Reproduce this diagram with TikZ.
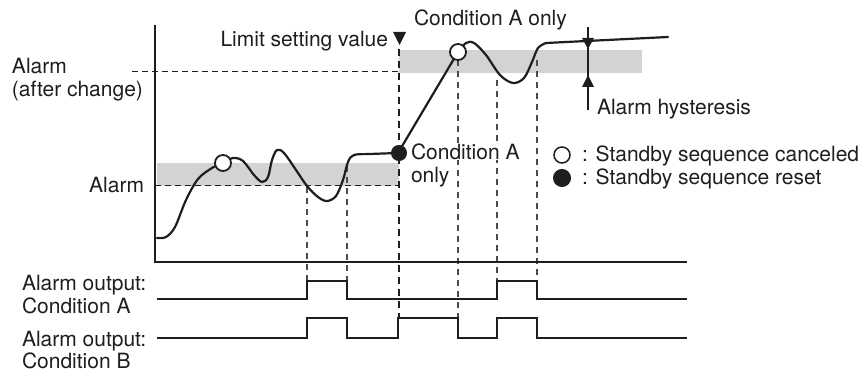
\documentclass[tikz,border=0pt]{standalone}
\usepackage{fontspec}
\setmainfont{TeX Gyre Heros}
\definecolor{bandgray}{RGB}{209,211,212}
\definecolor{ink}{RGB}{30,30,30}
\begin{document}
\begin{tikzpicture}[x=1pt,y=-1pt,
  lbl/.style={inner sep=0pt,outer sep=0pt,font=\fontsize{21}{23}\selectfont,text=ink},
  thindash/.style={draw=ink,line width=1pt,dash pattern=on 5.5pt off 4.5pt},
  vdash/.style={draw=ink!80,line width=1.1pt,dash pattern=on 6pt off 5pt},
  bigdash/.style={draw=ink,line width=2.6pt,dash pattern=on 7pt off 5pt},
  curve/.style={draw=ink,line width=2.2pt,line join=round,line cap=round},
  sig/.style={draw=ink,line width=2.5pt,line join=miter},
  axis/.style={draw=ink,line width=2.6pt,line join=miter},
  opendot/.style={circle,draw=ink,fill=white,line width=1.8pt,minimum size=16pt,inner sep=0pt},
  fulldot/.style={circle,draw=ink,fill=ink,line width=1pt,minimum size=15pt,inner sep=0pt}
]
\useasboundingbox (0,0) rectangle (866,371);
% bands
\fill[bandgray] (157,163) rectangle (399,186);
\fill[bandgray] (399,50) rectangle (642,73);
% horizontal dashed levels
\draw[thindash] (132,72) -- (398,72);
\draw[thindash] (155,186) -- (398,186);
% vertical dashed lines
\draw[vdash] (307,187) -- (307,281);
\draw[vdash] (347,166) -- (347,281);
\draw[vdash] (458,60) -- (458,318);
\draw[vdash] (497,80) -- (497,281);
\draw[vdash] (537,60) -- (537,281);
\draw[bigdash] (399,49) -- (399,318);
% limit setting marker
\fill[ink] (393,32) -- (406,32) -- (399.5,45) -- cycle;
% process value curve
\draw[curve] plot[smooth,tension=0.55] coordinates {(157,238) (166,237) (175,227) (186,200) (198,179) (212,168) (223,163) (233,158) (243,161) (254,175) (262,182) (268,177) (272,160) (277,150) (284,153) (296,170) (307,186) (318,197) (327,201) (336,196) (343,180) (348,162) (354,155) (370,154) (398,153)};
\draw[curve] (398,153) -- (458,52);
\draw[curve] plot[smooth,tension=0.55] coordinates {(458,52) (466,43) (474,43) (486,55) (500,75) (513,83) (524,78) (532,62) (538,48) (546,43)};
\draw[curve] (546,43) -- (668,37);
% axes
\draw[axis] (155,25) -- (155,262) -- (687,262);
% alarm outputs
\draw[sig] (157,299) -- (307,299) -- (307,281) -- (347,281) -- (347,299) -- (497,299) -- (497,281) -- (537,281) -- (537,299) -- (687,299);
\draw[sig] (157,338) -- (307,338) -- (307,318) -- (347,318) -- (347,338) -- (398,338) -- (398,318) -- (458,318) -- (458,338) -- (497,338) -- (497,318) -- (537,318) -- (537,338) -- (687,338);
% hysteresis arrows
\draw[ink,line width=1.2pt] (588,27) -- (588,110);
\fill[ink] (582,38) -- (594,38) -- (588,49) -- cycle;
\fill[ink] (582,87) -- (594,87) -- (588,75) -- cycle;
% markers
\node[opendot] (c1) at (223,163) {};
\node[opendot] (c2) at (458,52) {};
\node[fulldot] (f1) at (399,153) {};
% legend markers
\node[opendot,line width=1.5pt,minimum size=16pt] (lg1) at (562,155) {};
\node[fulldot,minimum size=17pt] (lg2) at (562,178) {};
% texts
\node[lbl,anchor=base west] (t1) at (414,26) {Condition A only};
\node[lbl,anchor=base east] (t2) at (388,47) {Limit setting value};
\node[lbl,anchor=base west] (t3) at (12,74) {Alarm};
\node[lbl,anchor=base west] (t4) at (12,97) {(after change)};
\node[lbl,anchor=base east] (t5) at (144,193) {Alarm};
\node[lbl,anchor=base west,fill=white] (t6) at (411,160) {Condition A};
\node[lbl,anchor=base west] (t7) at (411,183) {only};
\node[lbl,anchor=base west] (t8) at (597,115) {Alarm hysteresis};
\node[lbl,anchor=base west] (t9) at (582,162) {: Standby sequence canceled};
\node[lbl,anchor=base west] (t10) at (582,185) {: Standby sequence reset};
\node[lbl,anchor=base west] (t11) at (22,290) {Alarm output:};
\node[lbl,anchor=base west] (t12) at (22,313) {Condition A};
\node[lbl,anchor=base west] (t13) at (22,346) {Alarm output:};
\node[lbl,anchor=base west] (t14) at (22,368) {Condition B};
\end{tikzpicture}
\end{document}
